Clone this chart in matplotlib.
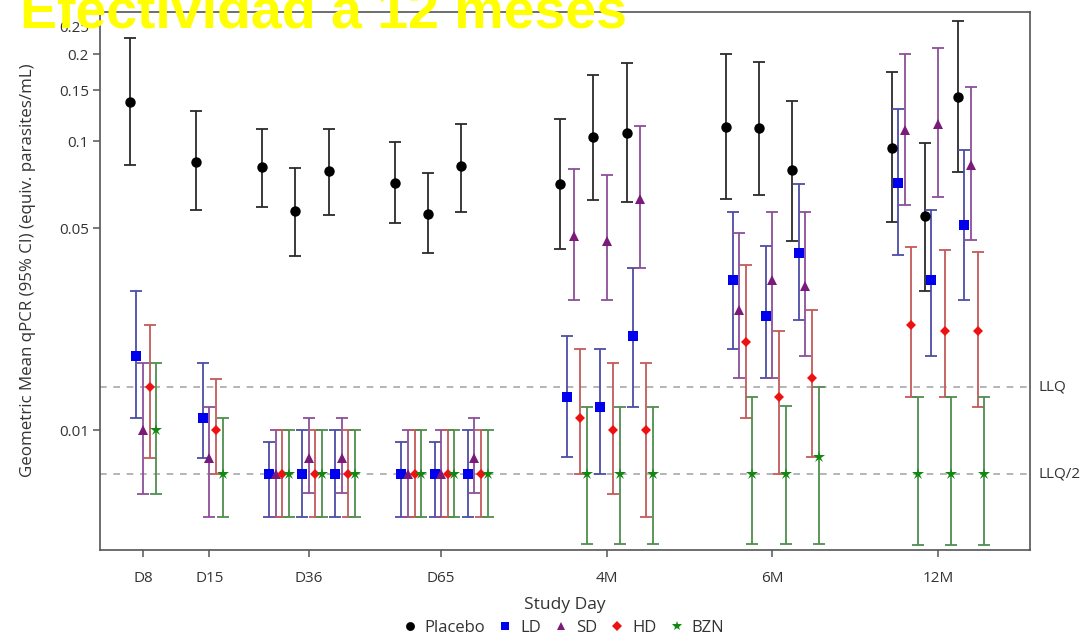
import matplotlib
matplotlib.use("Agg")
import matplotlib.pyplot as plt
import matplotlib.transforms as mtransforms
from matplotlib.lines import Line2D
import numpy as np

plt.rcParams['font.family'] = ['Open Sans', 'DejaVu Sans']

# ---------------- data ----------------
groups = ['D8', 'D15', 'D36', 'D65', '4M', '6M', '12M']
n_sub = [1, 1, 3, 3, 3, 3, 3]

series_names = ['Placebo', 'LD', 'SD', 'HD', 'BZN']

placebo_mean = [0.137, 0.0845, 0.0813, 0.0573, 0.0787, 0.0716, 0.0559, 0.0819,
                0.0712, 0.1035, 0.1066, 0.1119, 0.111, 0.0795, 0.0949, 0.0549, 0.1424]
placebo_lo = [0.0827, 0.0576, 0.0593, 0.0400, 0.0554, 0.052, 0.0409, 0.0568,
              0.0423, 0.0627, 0.0617, 0.0632, 0.0649, 0.0451, 0.0525, 0.0302, 0.0781]
placebo_hi = [0.228, 0.1275, 0.110, 0.0807, 0.110, 0.0992, 0.0775, 0.1145,
              0.1192, 0.169, 0.186, 0.1998, 0.1884, 0.138, 0.1737, 0.0987, 0.260]

ld_mean = [0.0181, 0.0110, 0.00702, 0.00702, 0.00702, 0.00702, 0.00702, 0.00702,
           0.0130, 0.0120, 0.0212, 0.0330, 0.0249, 0.0411, 0.0718, 0.0331, 0.0511]
ld_lo = [0.0110, 0.00802, 0.005, 0.005, 0.005, 0.005, 0.005, 0.005,
         0.00805, 0.00702, 0.0120, 0.0191, 0.0151, 0.0241, 0.0403, 0.0181, 0.0282]
ld_hi = [0.0302, 0.0170, 0.00906, 0.01, 0.01, 0.00906, 0.00906, 0.01,
         0.0212, 0.0191, 0.0363, 0.0570, 0.0432, 0.0710, 0.1291, 0.0579, 0.0931]

sd_mean = [0.01, 0.00802, 0.00702, 0.00801, 0.00801, 0.00702, 0.00702, 0.00801,
           0.0471, 0.0451, 0.0632, 0.0260, 0.0330, 0.0316, 0.1092, 0.1142, 0.0826]
sd_lo = [0.00602, 0.0050, 0.005, 0.00604, 0.00604, 0.005, 0.005, 0.00604,
         0.0282, 0.0282, 0.0363, 0.01514, 0.01514, 0.01804, 0.060, 0.0639, 0.0453]
sd_hi = [0.01704, 0.01203, 0.01, 0.01102, 0.01102, 0.01, 0.01, 0.01102,
         0.0802, 0.0761, 0.1127, 0.0479, 0.0570, 0.0570, 0.1997, 0.2094, 0.1539]

hd_mean = [0.01404, 0.01, 0.00702, 0.00702, 0.00702, 0.00702, 0.00702, 0.00702,
           0.01104, 0.0100, 0.0100, 0.0201, 0.01306, 0.01514, 0.0231, 0.0221, 0.0221]
hd_lo = [0.00802, 0.00702, 0.005, 0.005, 0.005, 0.005, 0.005, 0.005,
         0.00702, 0.00601, 0.00501, 0.01105, 0.00702, 0.00804, 0.01306, 0.01306, 0.0120]
hd_hi = [0.02313, 0.0150, 0.01, 0.01, 0.01, 0.01, 0.01, 0.01,
         0.0191, 0.01708, 0.01708, 0.0371, 0.0221, 0.0261, 0.0429, 0.0420, 0.0412]

bzn_mean = [0.01, 0.00702, 0.00702, 0.00702, 0.00702, 0.00702, 0.00702, 0.00702,
            0.00702, 0.00702, 0.00702, 0.00702, 0.00702, 0.00804, 0.00702, 0.00702, 0.00702]
bzn_lo = [0.00602, 0.005, 0.005, 0.005, 0.005, 0.005, 0.005, 0.005,
          0.00402, 0.00402, 0.00402, 0.00404, 0.00404, 0.00404, 0.004, 0.004, 0.004]
bzn_hi = [0.01704, 0.0110, 0.01, 0.01, 0.01, 0.01, 0.01, 0.01,
          0.01202, 0.01202, 0.01202, 0.01306, 0.01208, 0.01404, 0.01306, 0.01306, 0.01306]

llq = 0.01404
llq_half = 0.00702

ytick_vals = [0.01, 0.05, 0.1, 0.15, 0.2, 0.25]
ytick_labels = ['0.01', '0.05', '0.1', '0.15', '0.2', '0.25']

# ---------------- layout of visit slots ----------------
gap_before = [0, 2, 2, 2, 3, 3, 3]
slot_x = []
tick_x = []
pos = 0
for gi, (n, gap) in enumerate(zip(n_sub, gap_before)):
    if gi > 0:
        pos += gap
    xs = [pos + k for k in range(n)]
    slot_x.extend(xs)
    tick_x.append(xs[len(xs) // 2])
    pos = xs[-1]
slot_x = np.array(slot_x, dtype=float)

series = [
    (placebo_mean, placebo_lo, placebo_hi, 'o', 'black', '#2b2b2b', 7.5),
    (ld_mean, ld_lo, ld_hi, 's', '#0000ee', '#4d4da6', 6.5),
    (sd_mean, sd_lo, sd_hi, '^', '#7a1a7a', '#8c4f9a', 7),
    (hd_mean, hd_lo, hd_hi, 'D', '#ee1111', '#c45a5a', 5.5),
    (bzn_mean, bzn_lo, bzn_hi, '*', '#118811', '#4f8f4f', 9),
]
offsets = [-0.4, -0.2, 0.0, 0.2, 0.4]

fig = plt.figure(figsize=(10.92, 6.38), dpi=100)
ax = fig.add_axes([100 / 1092, 1 - 550 / 638, 930 / 1092, 538 / 638])

ax.set_yscale('log')
ax.set_ylim(0.003846, 0.2795)
ax.set_xlim(-1.30, 26.78)

ax.axhline(llq, color='#a8a8a8', lw=1.2, dashes=(4, 4), zorder=1)
ax.axhline(llq_half, color='#a8a8a8', lw=1.2, dashes=(4, 4), zorder=1)

for (m, lo, hi, mk, mc, ec, ms), off in zip(series, offsets):
    m = np.array(m); lo = np.array(lo); hi = np.array(hi)
    x = slot_x + off
    ax.errorbar(x, m, yerr=[m - lo, hi - m], fmt='none', ecolor=ec,
                elinewidth=1.3, capsize=4.5, capthick=1.3, zorder=2)
    ax.plot(x, m, linestyle='none', marker=mk, color=mc, markersize=ms,
            markeredgewidth=0, zorder=3)

ax.set_yticks(ytick_vals)
ax.set_yticklabels(ytick_labels)
ax.yaxis.set_minor_locator(matplotlib.ticker.NullLocator())
ax.set_xticks(tick_x)
ax.set_xticklabels(groups)

for sp in ax.spines.values():
    sp.set_color('#555555')
    sp.set_linewidth(1.2)
ax.tick_params(axis='both', colors='#555555', labelcolor='#333333',
               labelsize=11, length=5, width=1.1)
ax.tick_params(axis='x', pad=10)
ax.tick_params(axis='y', pad=3)

ax.set_ylabel('Geometric Mean qPCR (95% CI) (equiv. parasites/mL)',
              fontsize=12.2, color='#333333')
ax.yaxis.set_label_coords(-0.069, 0.52)
ax.set_xlabel('Study Day', fontsize=12.5, color='#333333', labelpad=8)

trans = mtransforms.blended_transform_factory(ax.transAxes, ax.transData)
ax.text(1.009, llq, 'LLQ', transform=trans, va='center', ha='left',
        fontsize=11, color='#333333')
ax.text(1.009, llq_half, 'LLQ/2', transform=trans, va='center', ha='left',
        fontsize=11, color='#333333')

handles = [Line2D([], [], linestyle='none', marker=s[3], color=s[4],
                  markersize=s[6] * 0.85, markeredgewidth=0) for s in series]
fig.legend(handles, series_names, loc='center', ncol=5, frameon=False,
           bbox_to_anchor=(562 / 1092, 1 - 628 / 638), fontsize=12,
           handletextpad=0.3, columnspacing=0.6, handlelength=1.2,
           labelcolor='#333333')

fig.text(20 / 1092, 1 - 28 / 638, 'Efectividad a 12 meses', color='#ffff00',
         fontsize=40, fontweight='bold', family=['Liberation Sans', 'DejaVu Sans'],
         ha='left', va='baseline')

fig.savefig('out.png', dpi=100)
